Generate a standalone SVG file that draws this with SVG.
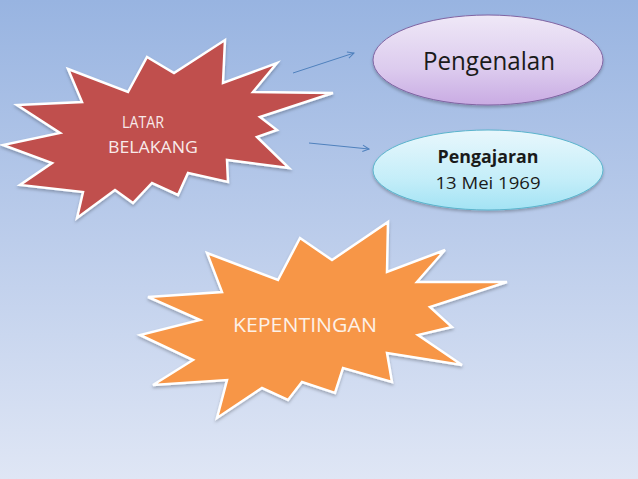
<svg xmlns="http://www.w3.org/2000/svg" width="638" height="479" viewBox="0 0 638 479">
<defs>
<linearGradient id="bg" x1="0" y1="0" x2="0" y2="1">
<stop offset="0" stop-color="#98b4e1"/>
<stop offset="0.5" stop-color="#bccdeb"/>
<stop offset="1" stop-color="#dfe6f5"/>
</linearGradient>
<linearGradient id="purp" x1="0" y1="0" x2="0" y2="1">
<stop offset="0" stop-color="#efe8f7"/>
<stop offset="0.6" stop-color="#dccbee"/>
<stop offset="1" stop-color="#c9abe3"/>
</linearGradient>
<linearGradient id="cyan" x1="0" y1="0" x2="0" y2="1">
<stop offset="0" stop-color="#e8f7fc"/>
<stop offset="0.6" stop-color="#c5eef9"/>
<stop offset="1" stop-color="#a3e3f4"/>
</linearGradient>
<filter id="sh" x="-10%" y="-10%" width="120%" height="125%">
<feDropShadow dx="0" dy="2" stdDeviation="1.5" flood-color="#000" flood-opacity="0.25"/>
</filter>
<marker id="ah" viewBox="0 0 10 10" refX="9" refY="5" markerWidth="8" markerHeight="8" markerUnits="userSpaceOnUse" orient="auto">
<path d="M1,1 L9,5 L1,9" fill="none" stroke="#4f81bd" stroke-width="1.2"/>
</marker>
<style>
.star{stroke:#ffffff;stroke-width:2.5;stroke-linejoin:miter;filter:url(#sh)}
.lbl{font-family:"Open Sans","Noto Sans","Liberation Sans",sans-serif;text-anchor:middle}
.conn{stroke:#4f81bd;stroke-width:1;fill:none;marker-end:url(#ah)}
</style>
</defs>
<rect x="0" y="0" width="638" height="479" fill="url(#bg)"/>

<g id="latar-belakang">
<polygon class="star" fill="#c0504d" points="68,69 128,92 147,57 174,73 225,40 223,83 277,63 253,92 333,93 260,117 277,130 257,137 289,168 227,160 228,182 188,173 178,195 152,183 133,203 115,190 77,218 83,192 20,185 52,163 3,145 60,133 17,105 82,102"/>
<text class="lbl" x="143" y="128" font-size="17" fill="#f8eaea" textLength="42" lengthAdjust="spacingAndGlyphs">LATAR</text>
<text class="lbl" x="153" y="153" font-size="17" fill="#f8eaea" textLength="90" lengthAdjust="spacingAndGlyphs">BELAKANG</text>
</g>

<g id="pengenalan">
<ellipse cx="488" cy="60" rx="115" ry="45" fill="url(#purp)" stroke="#8064a2" stroke-width="1" filter="url(#sh)"/>
<text class="lbl" x="489" y="70" font-size="25" fill="#1a1a1a" textLength="132" lengthAdjust="spacingAndGlyphs">Pengenalan</text>
</g>

<g id="pengajaran">
<ellipse cx="488" cy="170" rx="115" ry="40" fill="url(#cyan)" stroke="#5ab4cc" stroke-width="1" filter="url(#sh)"/>
<text class="lbl" x="488" y="163" font-size="17" font-weight="bold" fill="#1a1a1a" textLength="101" lengthAdjust="spacingAndGlyphs">Pengajaran</text>
<text class="lbl" x="488" y="189" font-size="17" fill="#1a1a1a" textLength="105" lengthAdjust="spacingAndGlyphs">13 Mei 1969</text>
</g>

<g id="kepentingan">
<polygon class="star" fill="#f79646" points="207,253 278,280 300,238 332,260 388,222 387,272 445,250 417,282 507,282 430,307 452,327 418,335 462,365 387,353 392,382 343,368 335,393 302,382 288,400 262,388 217,418 227,380 153,385 193,360 140,335 200,320 148,297 222,292"/>
<text class="lbl" x="305" y="332" font-size="20" fill="#fdf1e7" textLength="144" lengthAdjust="spacingAndGlyphs">KEPENTINGAN</text>
</g>

<g id="connectors">
<line class="conn" x1="293" y1="73" x2="354" y2="53"/>
<line class="conn" x1="309" y1="143" x2="369" y2="149"/>
</g>
</svg>
